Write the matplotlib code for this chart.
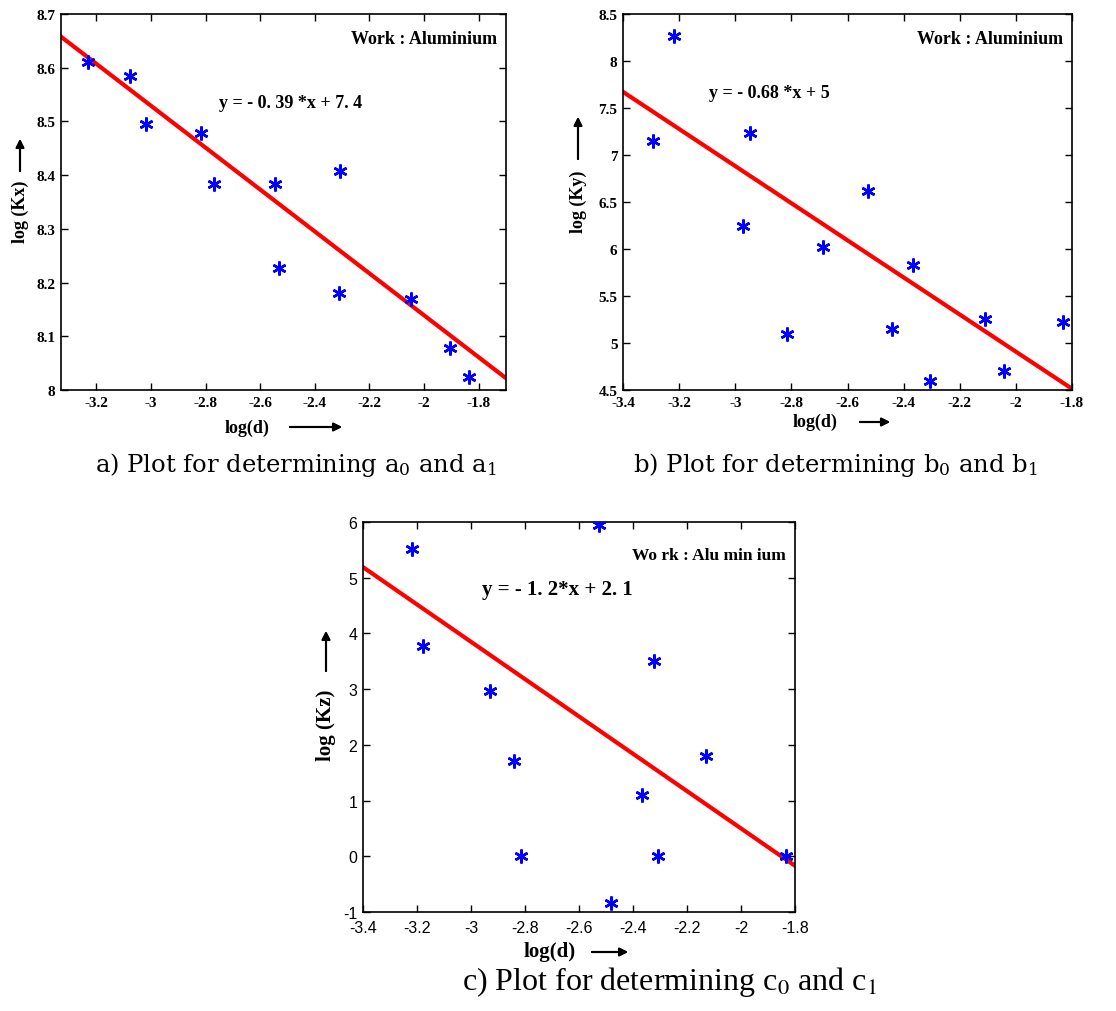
import matplotlib.pyplot as plt
import numpy as np

# data
ax_x = [-3.23, -3.078, -3.017, -2.818, -2.769, -2.547, -2.531, -2.307, -2.312, -2.049, -1.906, -1.834]
ax_y = [8.61, 8.585, 8.495, 8.478, 8.383, 8.384, 8.227, 8.408, 8.18, 8.169, 8.078, 8.024]
a_fit = (-0.39, 7.359)

bx_x = [-3.218, -3.293, -2.948, -2.974, -2.526, -2.689, -2.815, -2.440, -2.367, -2.305, -2.109, -2.044, -1.832]
bx_y = [8.27, 7.15, 7.23, 6.25, 6.62, 6.02, 5.10, 5.15, 5.83, 4.60, 5.26, 4.70, 5.22]
b_fit = (-1.974, 0.96)

cx_x = [-3.218, -3.178, -2.928, -2.84, -2.816, -2.527, -2.48, -2.366, -2.322, -2.307, -2.128, -1.834]
cx_y = [5.52, 3.78, 2.96, 1.71, 0.0, 5.94, -0.84, 1.1, 3.5, 0.0, 1.8, 0.0]
c_fit = (-3.35, -6.2)

a_xticks = [-3.2, -3.0, -2.8, -2.6, -2.4, -2.2, -2.0, -1.8]
a_yticks = [8.0, 8.1, 8.2, 8.3, 8.4, 8.5, 8.6, 8.7]
bc_xticks = [-3.4, -3.2, -3.0, -2.8, -2.6, -2.4, -2.2, -2.0, -1.8]
b_yticks = [4.5, 5.0, 5.5, 6.0, 6.5, 7.0, 7.5, 8.0, 8.5]
c_yticks = [-1, 0, 1, 2, 3, 4, 5, 6]

W, H = 1116, 1012
fig = plt.figure(figsize=(W / 100, H / 100), dpi=100)


def box(l, t, r, b):
    return [l / W, 1 - b / H, (r - l) / W, (b - t) / H]


def fx(x, y):
    return (x / W, 1 - y / H)


def style(ax, xt, yt, xl, yl, font, fs, xpad=4):
    ax.set_xlim(*xl)
    ax.set_ylim(*yl)
    ax.set_xticks(xt)
    ax.set_yticks(yt)
    ax.set_xticklabels(['%g' % v for v in xt], fontsize=fs, **font)
    ax.set_yticklabels(['%g' % v for v in yt], fontsize=fs, **font)
    ax.tick_params(direction='in', top=True, right=True, length=5, width=1, pad=4)
    ax.tick_params(axis='x', pad=xpad)
    for s in ax.spines.values():
        s.set_linewidth(1.2)


def draw(ax, x, y, fit):
    xs = np.array(ax.get_xlim())
    ax.plot(xs, fit[0] * xs + fit[1], color='red', lw=3, zorder=2)
    ax.plot(x, y, linestyle='none', marker=(6, 2, 0), ms=10, mec='blue', mew=1.8, zorder=3)


serif_b = dict(family='Liberation Serif', fontweight='bold')
sans = dict(family='Liberation Sans')

# panel a
ax1 = fig.add_axes(box(61, 15, 506, 391))
style(ax1, a_xticks, a_yticks, (-3.33, -1.70), (8.0, 8.7), serif_b, 11)
draw(ax1, ax_x, ax_y, a_fit)
ax1.text(0.98, 0.935, 'Work : Aluminium', transform=ax1.transAxes, ha='right', va='center',
         fontsize=13, **serif_b)
ax1.text(0.515, 0.765, 'y = - 0. 39 *x + 7. 4', transform=ax1.transAxes, ha='center', va='center',
         fontsize=13, **serif_b)

# panel b
ax2 = fig.add_axes(box(623, 15, 1072, 391))
style(ax2, bc_xticks, b_yticks, (-3.4, -1.8), (4.5, 8.5), serif_b, 11)
draw(ax2, bx_x, bx_y, b_fit)
ax2.text(0.98, 0.935, 'Work : Aluminium', transform=ax2.transAxes, ha='right', va='center',
         fontsize=13, **serif_b)
ax2.text(0.325, 0.79, 'y = - 0.68 *x + 5', transform=ax2.transAxes, ha='center', va='center',
         fontsize=13, **serif_b)

# panel c
ax3 = fig.add_axes(box(363, 523, 795, 913))
style(ax3, bc_xticks, c_yticks, (-3.4, -1.8), (-1, 6), sans, 11.5, xpad=6)
draw(ax3, cx_x, cx_y, c_fit)
ax3.text(0.98, 0.915, 'Wo rk : Alu min ium', transform=ax3.transAxes, ha='right', va='center',
         fontsize=12.5, **serif_b)
ax3.text(0.451, 0.828, 'y = - 1. 2*x + 2. 1', transform=ax3.transAxes, ha='center', va='center',
         fontsize=15, **serif_b)


# axis labels with arrows
def arrow(p0, p1):
    fig.add_artist(plt.annotate('', xy=fx(*p1), xytext=fx(*p0), xycoords='figure fraction',
                                textcoords='figure fraction',
                                arrowprops=dict(arrowstyle='-|>', color='black', lw=1.5,
                                                mutation_scale=12, shrinkA=0, shrinkB=0)))


fig.text(*fx(20, 212), 'log (Kx)', rotation=90, ha='center', va='center', fontsize=13, **serif_b)
arrow((20, 172), (20, 140))
fig.text(*fx(247, 428), 'log(d)', ha='center', va='center', fontsize=13, **serif_b)
arrow((290, 428), (342, 428))

fig.text(*fx(578, 202), 'log (Ky)', rotation=90, ha='center', va='center', fontsize=13, **serif_b)
arrow((578, 160), (578, 118))
fig.text(*fx(815, 422), 'log(d)', ha='center', va='center', fontsize=13, **serif_b)
arrow((860, 423), (890, 423))

fig.text(*fx(326, 725), 'log (Kz)', rotation=90, ha='center', va='center', fontsize=15, **serif_b)
arrow((326, 672), (326, 632))
fig.text(*fx(550, 952), 'log(d)', ha='center', va='center', fontsize=15, **serif_b)
arrow((592, 953), (628, 953))

# captions
fig.text(*fx(296, 465), r'a) Plot for determining a$_0$ and a$_1$', ha='center', va='center',
         fontsize=17.5, family='DejaVu Serif', math_fontfamily='dejavuserif')
fig.text(*fx(835, 465), r'b) Plot for determining b$_0$ and b$_1$', ha='center', va='center',
         fontsize=17.5, family='DejaVu Serif', math_fontfamily='dejavuserif')
fig.text(*fx(670, 982), r'c) Plot for determining c$_0$ and c$_1$', ha='center', va='center',
         fontsize=23, family='Liberation Serif', math_fontfamily='stix')

fig.savefig('out.png', dpi=100)
